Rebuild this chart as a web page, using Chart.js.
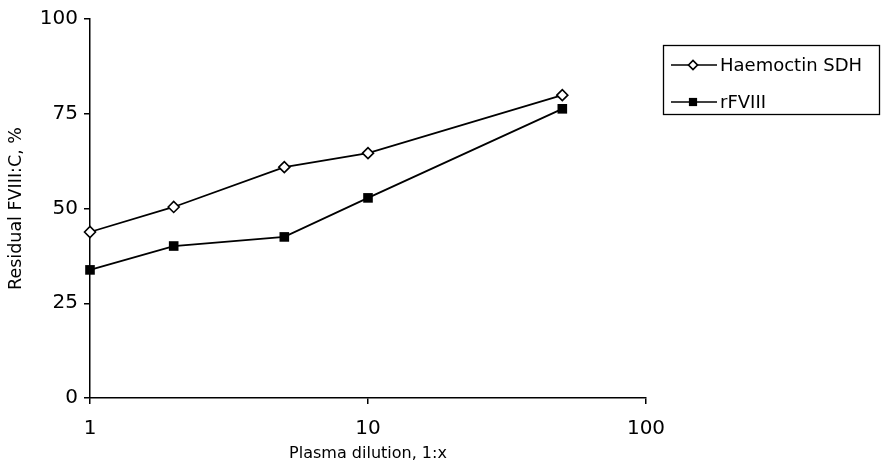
<!DOCTYPE html>
<html>
<head>
<meta charset="utf-8">
<script src="https://cdn.jsdelivr.net/npm/chart.js@4/dist/chart.umd.min.js"></script>
<style>
  html, body { margin: 0; padding: 0; background: #fff; }
  #wrap { width: 881px; height: 466px; position: relative; }
</style>
</head>
<body>
<div id="wrap"><canvas id="chart" width="881" height="466"></canvas></div>
<script>
// Plasma dilution (1:x) and residual FVIII:C (%)
const dilutions = [1, 2, 5, 10, 50];
const haemoctin = [43.8, 50.4, 60.9, 64.6, 79.9];
const rfviii = [33.8, 40.1, 42.5, 52.8, 76.3];
const xTicks = [1, 10, 100];
const yTicks = [0, 25, 50, 75, 100];
const seriesNames = ['Haemoctin SDH', 'rFVIII'];

const FONT = "'DejaVu Sans', 'Liberation Sans', Arial, sans-serif";

function toPoints(values) {
  return dilutions.map((x, i) => ({ x, y: values[i] }));
}

// Legend box drawn on the canvas: line + marker + label
const boxLegend = {
  id: 'boxLegend',
  afterDraw(chart) {
    const ctx = chart.ctx;
    const left = 663, top = 45, w = 217, h = 70;
    ctx.save();
    ctx.strokeStyle = '#000';
    ctx.lineWidth = 1.3;
    ctx.strokeRect(left + 0.5, top + 0.5, w - 1, h - 1);
    const rows = [top + 20, top + 57];
    chart.data.datasets.forEach((ds, i) => {
      const y = rows[i];
      ctx.beginPath();
      ctx.lineWidth = 1.7;
      ctx.strokeStyle = '#000';
      ctx.moveTo(left + 8, y);
      ctx.lineTo(left + 54, y);
      ctx.stroke();
      Chart.helpers.drawPoint(ctx, {
        pointStyle: ds.pointStyle,
        radius: ds.pointRadius - 1,
        borderWidth: ds.pointBorderWidth
      }, left + 30, y);
      ctx.fillStyle = '#000';
      ctx.font = '18px ' + FONT;
      ctx.textBaseline = 'middle';
      ctx.textAlign = 'left';
      ctx.fillText(ds.label, left + 57, y + 1);
    });
    ctx.restore();
  }
};

new Chart(document.getElementById('chart'), {
  type: 'scatter',
  data: {
    datasets: [
      {
        label: seriesNames[0],
        data: toPoints(haemoctin),
        showLine: true,
        borderColor: '#000',
        borderWidth: 1.8,
        pointStyle: 'rectRot',
        pointRadius: 5.5,
        pointBackgroundColor: '#fff',
        pointBorderColor: '#000',
        pointBorderWidth: 1.6,
        clip: false
      },
      {
        label: seriesNames[1],
        data: toPoints(rfviii),
        showLine: true,
        borderColor: '#000',
        borderWidth: 1.8,
        pointStyle: 'rect',
        pointRadius: 6.8,
        pointBackgroundColor: '#000',
        pointBorderColor: '#000',
        pointBorderWidth: 0,
        clip: false
      }
    ]
  },
  options: {
    responsive: false,
    animation: false,
    layout: { padding: { left: 0, top: 19, right: 235, bottom: 0 } },
    plugins: {
      legend: { display: false },
      tooltip: { enabled: false }
    },
    scales: {
      x: {
        type: 'logarithmic',
        min: 1,
        max: 100,
        afterBuildTicks(scale) {
          scale.ticks = xTicks.map(v => ({ value: v }));
        },
        afterFit(scale) { scale.height = 68; },
        border: { color: '#000', width: 1.5 },
        grid: { drawOnChartArea: false, drawTicks: true, tickLength: 6, color: '#000', lineWidth: 1.5 },
        ticks: {
          color: '#000',
          font: { family: FONT, size: 20 },
          padding: 13,
          maxRotation: 0,
          autoSkip: false,
          callback: v => String(v)
        },
        title: {
          display: true,
          text: 'Plasma dilution, 1:x',
          color: '#000',
          font: { family: FONT, size: 16 },
          padding: { top: 2, bottom: 3 }
        }
      },
      y: {
        min: 0,
        max: 100,
        afterBuildTicks(scale) {
          scale.ticks = yTicks.map(v => ({ value: v }));
        },
        afterFit(scale) { scale.width = 90; },
        border: { color: '#000', width: 1.5 },
        grid: { drawOnChartArea: false, drawTicks: true, tickLength: 6, color: '#000', lineWidth: 1.5 },
        ticks: {
          color: '#000',
          font: { family: FONT, size: 20 },
          padding: 6
        },
        title: {
          display: true,
          text: 'Residual FVIII:C, %',
          color: '#000',
          font: { family: FONT, size: 17.5 },
          padding: { top: 6, bottom: 10 }
        }
      }
    }
  },
  plugins: [boxLegend]
});
</script>
</body>
</html>
